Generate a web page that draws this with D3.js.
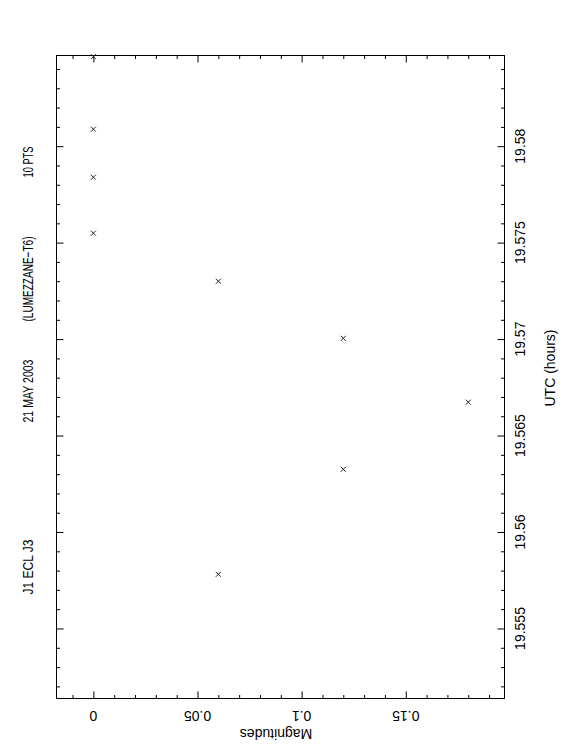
<!DOCTYPE html>
<html>
<head>
<meta charset="utf-8">
<script src="https://cdn.jsdelivr.net/npm/d3@7"></script>
<style>
  body { margin: 0; background: #fff; }
  text { font-family: "Liberation Sans", Arial, sans-serif; fill: #000; }
</style>
</head>
<body>
<script>
// observations (UTC hours, differential magnitude)
const utc = [19.58464, 19.58088, 19.57839, 19.57549, 19.57300, 19.57004, 19.56673, 19.56325, 19.55781];
const mag = [0, 0, 0, 0, 0.06, 0.12, 0.18, 0.12, 0.06];

const utcTicks = [19.555, 19.56, 19.565, 19.57, 19.575, 19.58];
const magTicks = [0, 0.05, 0.1, 0.15];
const titleParts = ["J1 ECL J3", "21 MAY 2003", "(LUMEZZANE\u2212T6)", "10 PTS"];

const width = 562, height = 756;
const box = { left: 56.5, right: 504.5, top: 55.5, bottom: 698.5 };

const svg = d3.select("body").append("svg")
    .attr("width", width)
    .attr("height", height);

// magnitudes run left→right, time runs bottom→top (page printed rotated)
const x = d3.scaleLinear().domain([-0.0177, 0.1974]).range([box.left, box.right]);
const y = d3.scaleLinear().domain([19.55137, 19.5847]).range([box.bottom, box.top]);

function minors(scale, step) {
    const [a, b] = scale.domain();
    return d3.range(Math.ceil(a / step - 1e-6), Math.floor(b / step + 1e-6) + 1).map(i => +(i * step).toFixed(6));
}
const utcMinor = minors(y, 0.001).filter(v => !utcTicks.some(t => Math.abs(t - v) < 1e-6));
const magMinor = minors(x, 0.01).filter(v => !magTicks.some(t => Math.abs(t - v) < 1e-6));

function drawAxis(axisFn, scale, transform, major, minor) {
    const g1 = svg.append("g").attr("transform", transform)
        .call(axisFn(scale).tickValues(major).tickSize(7).tickFormat(""));
    const g2 = svg.append("g").attr("transform", transform)
        .call(axisFn(scale).tickValues(minor).tickSize(3.5).tickFormat(""));
    [g1, g2].forEach(g => {
        g.select(".domain").remove();
        g.selectAll("line").attr("stroke", "#000");
    });
}

drawAxis(d3.axisTop, x, `translate(0,${box.bottom})`, magTicks, magMinor);
drawAxis(d3.axisBottom, x, `translate(0,${box.top})`, magTicks, magMinor);
drawAxis(d3.axisRight, y, `translate(${box.left},0)`, utcTicks, utcMinor);
drawAxis(d3.axisLeft, y, `translate(${box.right},0)`, utcTicks, utcMinor);

svg.append("rect")
    .attr("x", box.left).attr("y", box.top)
    .attr("width", box.right - box.left).attr("height", box.bottom - box.top)
    .attr("fill", "none").attr("stroke", "#000").attr("stroke-width", 1);

// magnitude labels, upside down
svg.selectAll(".maglab")
    .data(magTicks)
    .enter()
    .append("text")
    .attr("class", "maglab")
    .attr("transform", d => `translate(${x(d)},710.5) rotate(180)`)
    .attr("text-anchor", "middle")
    .attr("font-size", "14px")
    .text(d => d === 0 ? "0" : String(d));

svg.append("text")
    .attr("transform", "translate(276,729) rotate(180)")
    .attr("text-anchor", "middle")
    .attr("font-size", "14px")
    .text("Magnitudes");

// UTC labels, reading upward
svg.selectAll(".utclab")
    .data(utcTicks)
    .enter()
    .append("text")
    .attr("class", "utclab")
    .attr("transform", d => `translate(525,${y(d)}) rotate(-90)`)
    .attr("text-anchor", "middle")
    .attr("font-size", "14px")
    .text(d => String(d));

svg.append("text")
    .attr("transform", "translate(555,368) rotate(-90)")
    .attr("text-anchor", "middle")
    .attr("font-size", "14px")
    .text("UTC (hours)");

// title along the left edge
const titleY = [567, 391, 279, 162];
const titleLen = [55, 63, 85, 31];
titleParts.forEach((t, i) => {
    svg.append("text")
        .attr("transform", `translate(33,${titleY[i]}) rotate(-90)`)
        .attr("text-anchor", "middle")
        .attr("font-size", "15px")
        .attr("textLength", titleLen[i])
        .attr("lengthAdjust", "spacingAndGlyphs")
        .text(t);
});

// cross markers
const pts = utc.map((t, i) => ({ t, m: mag[i] }));
const s = 2.5;
const mk = svg.append("g").attr("stroke", "#222").attr("stroke-width", 1);
pts.forEach(p => {
    const cx = x(p.m), cy = y(p.t);
    mk.append("line").attr("x1", cx - s).attr("y1", cy - s).attr("x2", cx + s).attr("y2", cy + s);
    mk.append("line").attr("x1", cx - s).attr("y1", cy + s).attr("x2", cx + s).attr("y2", cy - s);
});
</script>
</body>
</html>
